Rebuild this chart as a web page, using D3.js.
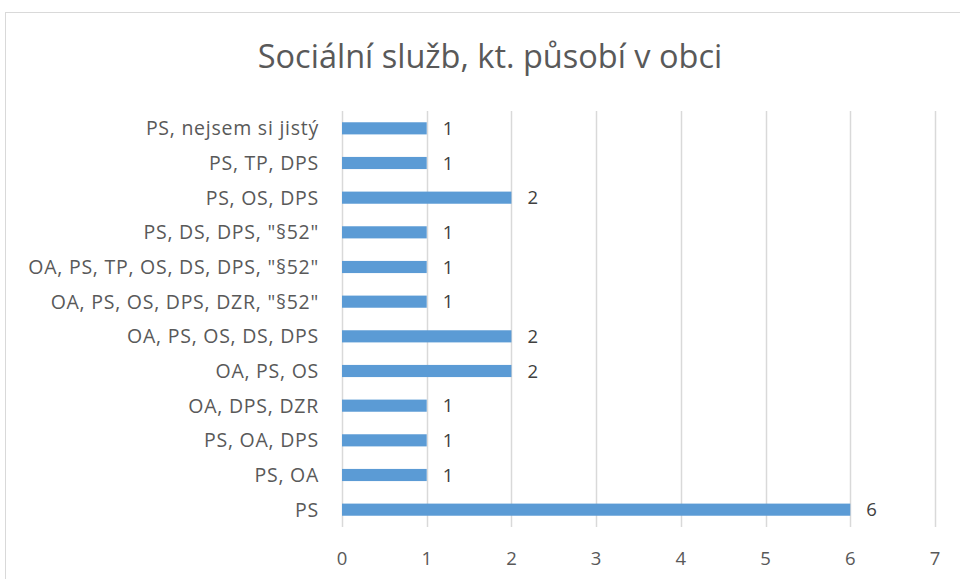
<!DOCTYPE html>
<html>
<head>
<meta charset="utf-8">
<script src="https://cdn.jsdelivr.net/npm/d3@7/dist/d3.min.js"></script>
<style>
  body { margin: 0; background: #fff; }
  svg { display: block; font-family: "Open Sans", "Noto Sans", sans-serif; }
</style>
</head>
<body>
<svg id="chart" width="960" height="579"></svg>
<script>
// categories top to bottom
var categories = [
  'PS, nejsem si jistý',
  'PS, TP, DPS',
  'PS, OS, DPS',
  'PS, DS, DPS, "§52"',
  'OA, PS, TP, OS, DS, DPS, "§52"',
  'OA, PS, OS, DPS, DZR, "§52"',
  'OA, PS, OS, DS, DPS',
  'OA, PS, OS',
  'OA, DPS, DZR',
  'PS, OA, DPS',
  'PS, OA',
  'PS'
];
var counts = [1, 1, 2, 1, 1, 1, 2, 2, 1, 1, 1, 6];
var xTicks = [0, 1, 2, 3, 4, 5, 6, 7];
var title = 'Sociální služb, kt. působí v obci';

var svg = d3.select('#chart');
var plotLeft = 342, plotRight = 935, plotTop = 111, plotBottom = 527;

// chart border
svg.append('rect').attr('x', 5.5).attr('y', 12.5).attr('width', 1000).attr('height', 1000)
  .attr('fill', 'none').attr('stroke', '#d9d9d9').attr('stroke-width', 1);

svg.append('text').attr('x', 490).attr('y', 68).attr('text-anchor', 'middle')
  .attr('font-size', 32.5).attr('fill', '#595959').text(title);

var x = d3.scaleLinear().domain([0, 7]).range([plotLeft, plotRight]);
var y = d3.scaleBand().domain(categories).range([plotTop, plotBottom]).paddingInner(0.65).paddingOuter(0.325);

// gridlines
svg.append('g').selectAll('line').data(xTicks).enter().append('line')
  .attr('x1', function(d){ return Math.round(x(d)) + 0.5; })
  .attr('x2', function(d){ return Math.round(x(d)) + 0.5; })
  .attr('y1', plotTop).attr('y2', plotBottom)
  .attr('stroke', '#d9d9d9').attr('stroke-width', 1.5);

// x tick labels
svg.append('g').selectAll('text').data(xTicks).enter().append('text')
  .attr('x', function(d){ return x(d); }).attr('y', 565)
  .attr('text-anchor', 'middle').attr('font-size', 18.5).attr('fill', '#595959')
  .text(function(d){ return d; });

// category labels
svg.append('g').selectAll('text').data(categories).enter().append('text')
  .attr('x', 319).attr('y', function(d){ return y(d) + y.bandwidth() / 2; })
  .attr('dy', '0.36em').attr('text-anchor', 'end').attr('font-size', 19.5)
  .attr('letter-spacing', 0.75).attr('fill', '#595959')
  .text(function(d){ return d; });

// bars
svg.append('g').selectAll('rect').data(categories).enter().append('rect')
  .attr('x', x(0)).attr('y', function(d){ return y(d); })
  .attr('width', function(d, i){ return x(counts[i]) - x(0); })
  .attr('height', y.bandwidth())
  .attr('fill', '#5b9bd5');

// value labels
svg.append('g').selectAll('text').data(categories).enter().append('text')
  .attr('x', function(d, i){ return x(counts[i]) + 16; })
  .attr('y', function(d){ return y(d) + y.bandwidth() / 2; })
  .attr('dy', '0.36em').attr('font-size', 18.5).attr('fill', '#404040')
  .text(function(d, i){ return counts[i]; });
</script>
</body>
</html>
